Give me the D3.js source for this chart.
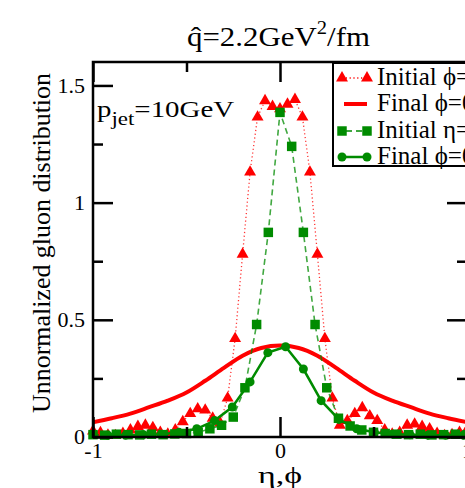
<!DOCTYPE html>
<html>
<head>
<meta charset="utf-8">
<script src="https://cdn.jsdelivr.net/npm/d3@7"></script>
<style>
  html, body { margin: 0; padding: 0; background: #fff; }
  svg { display: block; }
  text { font-family: "Liberation Serif", "DejaVu Serif", serif; fill: #000; }
</style>
</head>
<body>
<svg id="chart" width="465" height="488"></svg>
<script>
// ---- data ----
// Initial phi distribution (triangles), grid step 0.04 from -1 to 1
const initPhiX = [-1.00,-0.96,-0.92,-0.88,-0.84,-0.80,-0.76,-0.72,-0.68,-0.64,-0.60,-0.56,-0.52,-0.48,-0.44,-0.40,-0.36,-0.32,-0.28,-0.24,-0.20,-0.16,-0.12,-0.08,-0.04,
                  0.00,0.04,0.08,0.12,0.16,0.20,0.24,0.28,0.32,0.36,0.40,0.44,0.48,0.52,0.56,0.60,0.64,0.68,0.72,0.76,0.80,0.84,0.88,0.92,0.96,1.00];
const initPhiY = [0.025,0.018,0.008,0.006,0.015,0.030,0.045,0.050,0.040,0.020,0.012,0.030,0.065,0.100,0.120,0.115,0.080,0.060,0.166,0.420,0.780,1.130,1.365,1.435,1.410,
                  1.400,1.420,1.440,1.365,1.130,0.780,0.420,0.166,0.050,0.070,0.100,0.125,0.090,0.070,0.030,0.012,0.020,0.050,0.055,0.045,0.035,0.015,0.006,0.010,0.020,0.030];

// Final phi distribution (solid red curve)
const finalPhiX = [-1.0,-0.9,-0.8,-0.7,-0.6,-0.5,-0.4,-0.3,-0.2,-0.1,0.0,0.1,0.2,0.3,0.4,0.5,0.6,0.7,0.8,0.9,1.0];
const finalPhiY = [0.063,0.080,0.100,0.127,0.155,0.190,0.240,0.295,0.347,0.380,0.390,0.380,0.347,0.295,0.240,0.190,0.155,0.127,0.100,0.080,0.063];

// Initial eta distribution (squares), grid step 0.0625
const initEtaX = [-1.0,-0.9375,-0.875,-0.8125,-0.75,-0.6875,-0.625,-0.5625,-0.5,-0.4375,-0.375,-0.3125,-0.25,-0.1875,-0.125,-0.0625,
                  0.0,0.0625,0.125,0.1875,0.25,0.3125,0.375,0.4375,0.5,0.5625,0.625,0.6875,0.75,0.8125,0.875,0.9375,1.0];
const initEtaY = [0.010,0.008,0.012,0.010,0.009,0.012,0.010,0.013,0.015,0.020,0.035,0.050,0.085,0.210,0.480,0.873,
                  1.385,1.240,0.873,0.480,0.210,0.080,0.047,0.030,0.020,0.015,0.012,0.010,0.012,0.009,0.010,0.012,0.010];

// Final phi distribution of the second set (circles)
const finalPhi2X = [-0.920,-0.825,-0.730,-0.635,-0.540,-0.445,-0.350,-0.255,-0.160,-0.065,0.030,0.125,0.220,0.315,0.410,0.505,0.600,0.695,0.790,0.885,0.980];
const finalPhi2Y = [0.008,0.008,0.010,0.012,0.020,0.035,0.070,0.128,0.235,0.360,0.385,0.290,0.155,0.075,0.035,0.020,0.012,0.010,0.008,0.008,0.008];

const xMajor = [-1, 0, 1], xMinor = [-0.5, 0.5];
const yMajor = [0, 0.5, 1, 1.5], yMinor = [0.25, 0.75, 1.25];
const legendLabels = ["Initial \u03D5=0", "Final \u03D5=0", "Initial \u03B7=0", "Final \u03D5=0"];

// ---- layout ----
const RED = "#ff0000", GREEN = "#008b00";
const svg = d3.select("#chart");
const L = 93, R = 467, T = 62, B = 437;
const x = d3.scaleLinear().domain([-1, 1]).range([L, R]);
const y = d3.scaleLinear().domain([0, 1.6]).range([B, T]);

svg.append("rect").attr("width", 465).attr("height", 488).attr("fill", "#fff");

svg.append("clipPath").attr("id", "plotclip")
  .append("rect").attr("x", L).attr("y", T).attr("width", R - L).attr("height", B - T);

const zip = (xs, ys) => xs.map((v, i) => [v, ys[i]]);
const line = d3.line().x(d => x(d[0])).y(d => y(d[1]));
const smooth = d3.line().x(d => x(d[0])).y(d => y(d[1])).curve(d3.curveMonotoneX);

const plot = svg.append("g");

// initial phi: dotted red line with triangles
const dTri = zip(initPhiX, initPhiY);
plot.append("path").attr("d", line(dTri)).attr("clip-path", "url(#plotclip)")
  .attr("fill", "none").attr("stroke", RED).attr("stroke-width", 1.3)
  .attr("stroke-dasharray", "1.2,2.6").attr("opacity", 0.8);
const triSym = d3.symbol().type(d3.symbolTriangle).size(62);
plot.selectAll(".tri").data(dTri).join("path")
  .attr("transform", d => `translate(${x(d[0])},${y(d[1])})`)
  .attr("d", triSym()).attr("fill", RED);

// final phi: thick red curve
plot.append("path").attr("d", smooth(zip(finalPhiX, finalPhiY))).attr("clip-path", "url(#plotclip)")
  .attr("fill", "none").attr("stroke", RED).attr("stroke-width", 4);

// initial eta: dashed green line with squares
const dSq = zip(initEtaX, initEtaY);
plot.append("path").attr("d", line(dSq)).attr("clip-path", "url(#plotclip)")
  .attr("fill", "none").attr("stroke", GREEN).attr("stroke-width", 1.6)
  .attr("stroke-dasharray", "6,4").attr("opacity", 0.75);
const sqSym = d3.symbol().type(d3.symbolSquare).size(90);
plot.selectAll(".sq").data(dSq).join("path")
  .attr("transform", d => `translate(${x(d[0])},${y(d[1])})`)
  .attr("d", sqSym()).attr("fill", GREEN);

// final phi (second set): solid green line with circles
const dCirc = zip(finalPhi2X, finalPhi2Y);
plot.append("path").attr("d", line(dCirc)).attr("clip-path", "url(#plotclip)")
  .attr("fill", "none").attr("stroke", GREEN).attr("stroke-width", 2.5);
plot.selectAll(".circ").data(dCirc).join("circle")
  .attr("cx", d => x(d[0])).attr("cy", d => y(d[1])).attr("r", 4.5).attr("fill", GREEN);

// ---- axes (ticks point inward, mirrored on all sides) ----
const fmt = d => d === 0 ? "0" : String(d);
function styleAxis(g) {
  g.select(".domain").remove();
  g.selectAll("line").attr("stroke", "#000").attr("stroke-width", 2.5);
  g.selectAll("text").style("font-family", "Liberation Serif").style("font-size", "22px").attr("fill", "#000");
}
svg.append("g").attr("transform", `translate(0,${B})`)
  .call(d3.axisBottom(x).tickValues(xMajor).tickFormat(fmt).tickSize(-20).tickPadding(8))
  .call(styleAxis).call(g => g.selectAll("text").attr("dy", "0.71em").attr("y", 5));
svg.append("g").attr("transform", `translate(0,${B})`)
  .call(d3.axisBottom(x).tickValues(xMinor).tickFormat("").tickSize(-10)).call(styleAxis);
svg.append("g").attr("transform", `translate(0,${T})`)
  .call(d3.axisTop(x).tickValues(xMajor).tickFormat("").tickSize(-20)).call(styleAxis);
svg.append("g").attr("transform", `translate(0,${T})`)
  .call(d3.axisTop(x).tickValues(xMinor).tickFormat("").tickSize(-10)).call(styleAxis);

svg.append("g").attr("transform", `translate(${L},0)`)
  .call(d3.axisLeft(y).tickValues(yMajor).tickFormat(fmt).tickSize(-20).tickPadding(8))
  .call(styleAxis).call(g => g.selectAll("text").attr("x", -8).attr("dy", "0.3em"));
svg.append("g").attr("transform", `translate(${L},0)`)
  .call(d3.axisLeft(y).tickValues(yMinor).tickFormat("").tickSize(-10)).call(styleAxis);
svg.append("g").attr("transform", `translate(${R},0)`)
  .call(d3.axisRight(y).tickValues(yMajor).tickFormat("").tickSize(-20)).call(styleAxis);
svg.append("g").attr("transform", `translate(${R},0)`)
  .call(d3.axisRight(y).tickValues(yMinor).tickFormat("").tickSize(-10)).call(styleAxis);

// frame
svg.append("rect").attr("x", L).attr("y", T).attr("width", R - L).attr("height", B - T)
  .attr("fill", "none").attr("stroke", "#000").attr("stroke-width", 2.5);

// ---- text helpers: place a text so that it spans a given width ----
function fitText(g, x0, y0, width) {
  const t = g.select("text");
  const w = t.node().getBBox().width;
  g.attr("transform", `translate(${x0},${y0}) scale(${width / w},1)`);
}

// title
const tg = svg.append("g");
const title = tg.append("text").attr("x", 0).attr("y", 0).style("font-size", "27px");
title.append("tspan").text("q\u0302=2.2GeV");
title.append("tspan").attr("dy", -12).style("font-size", "18px").text("2");
title.append("tspan").attr("dy", 12).text("/fm");
fitText(tg, 187, 46, 183);

// y axis label
svg.append("text").attr("transform", "translate(50,243) rotate(-90)").attr("text-anchor", "middle")
  .style("font-size", "26px").attr("textLength", 340).attr("lengthAdjust", "spacingAndGlyphs")
  .text("Unnormalized gluon distribution");

// x axis label
const xg = svg.append("g");
xg.append("text").attr("x", 0).attr("y", 0).style("font-size", "23px").text("\u03B7,\u03D5");
fitText(xg, 258, 483, 44);

// annotation
const pg = svg.append("g");
const pj = pg.append("text").attr("x", 0).attr("y", 0).style("font-size", "24px");
pj.append("tspan").text("p");
pj.append("tspan").attr("dy", 8).style("font-size", "19px").text("jet");
pj.append("tspan").attr("dy", -8).text("=10GeV");
fitText(pg, 97, 117, 138);

// ---- legend ----
const lg = svg.append("g");
lg.append("rect").attr("x", 333).attr("y", 63).attr("width", 150).attr("height", 103)
  .attr("fill", "#fff").attr("stroke", "#000").attr("stroke-width", 2);
const rowsY = [78, 104, 131, 157];
const x0 = 342, x1 = 367;
// row 1: triangles + dotted
lg.append("line").attr("x1", x0).attr("x2", x1).attr("y1", rowsY[0]).attr("y2", rowsY[0])
  .attr("stroke", RED).attr("stroke-width", 1.3).attr("stroke-dasharray", "1.2,2.6");
[x0, x1].forEach(px => lg.append("path").attr("transform", `translate(${px},${rowsY[0]})`).attr("d", triSym()).attr("fill", RED));
// row 2: thick red line
lg.append("line").attr("x1", x0 + 2).attr("x2", x1).attr("y1", rowsY[1]).attr("y2", rowsY[1])
  .attr("stroke", RED).attr("stroke-width", 4);
// row 3: squares + dashed
lg.append("line").attr("x1", x0).attr("x2", x1).attr("y1", rowsY[2]).attr("y2", rowsY[2])
  .attr("stroke", GREEN).attr("stroke-width", 1.6).attr("stroke-dasharray", "6,4").attr("stroke-dashoffset", -4);
[x0, x1].forEach(px => lg.append("path").attr("transform", `translate(${px},${rowsY[2]})`).attr("d", sqSym()).attr("fill", GREEN));
// row 4: circles + solid
lg.append("line").attr("x1", x0).attr("x2", x1).attr("y1", rowsY[3]).attr("y2", rowsY[3])
  .attr("stroke", GREEN).attr("stroke-width", 2.5);
[x0, x1].forEach(px => lg.append("circle").attr("cx", px).attr("cy", rowsY[3]).attr("r", 4.5).attr("fill", GREEN));
legendLabels.forEach((t, i) => lg.append("text").attr("x", 377).attr("y", rowsY[i] + 7)
  .style("font-size", "25px").text(t));
</script>
</body>
</html>
